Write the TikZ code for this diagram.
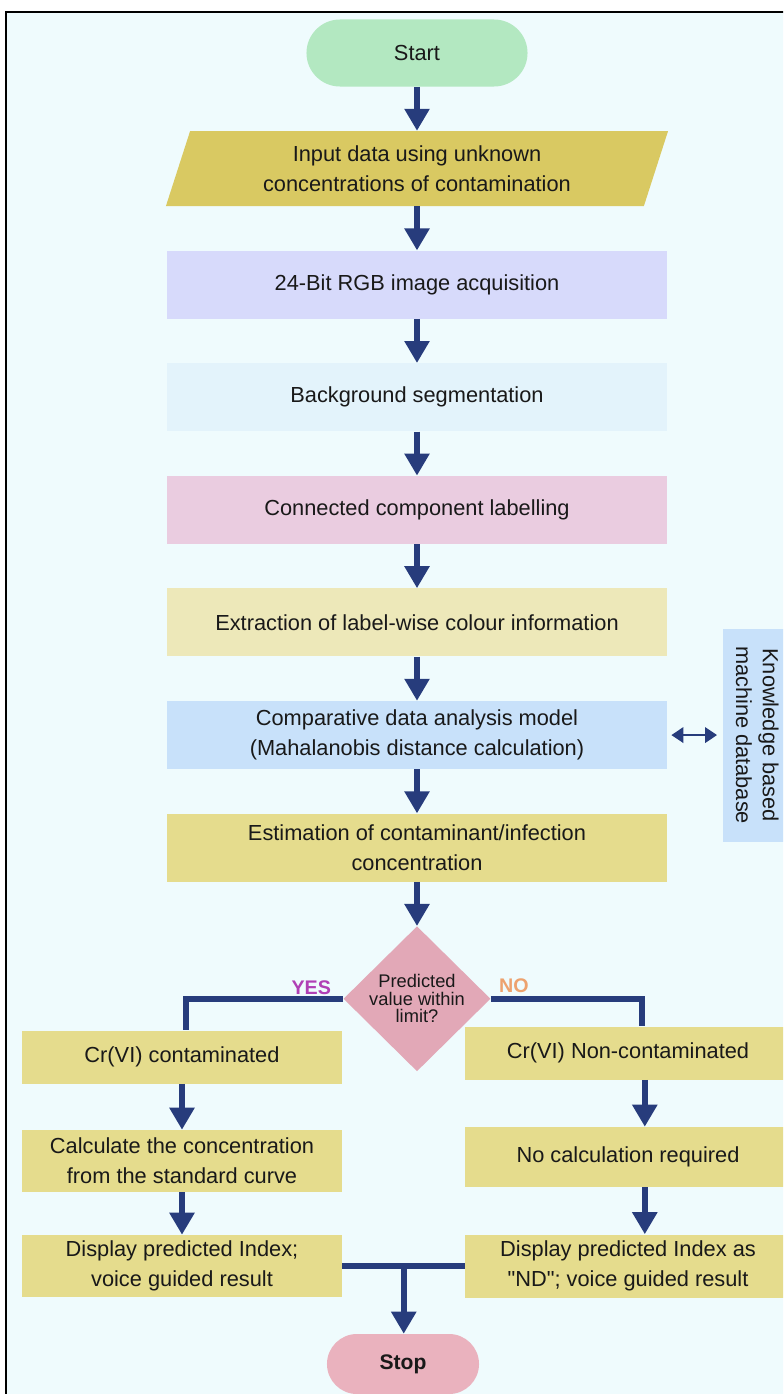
\documentclass[tikz,border=0pt]{standalone}
\usepackage{fontspec}
\setmainfont{Liberation Sans}
\usetikzlibrary{
  arrows.meta,
  positioning,
  calc,
  shapes.geometric
}
\definecolor{PageCyan}{HTML}{EFFBFD}
\definecolor{StartGreen}{HTML}{B3E8C1}
\definecolor{InputOlive}{HTML}{D9C962}
\definecolor{RgbLavender}{HTML}{D7DAFB}
\definecolor{SegBlue}{HTML}{E3F3FB}
\definecolor{LabelPink}{HTML}{EACCE0}
\definecolor{ExtractCream}{HTML}{EDE8B9}
\definecolor{ModelBlue}{HTML}{C8E1FA}
\definecolor{StepYellow}{HTML}{E5DC8D}
\definecolor{LimitPink}{HTML}{E2A8B7}
\definecolor{StopPink}{HTML}{EAB2BE}
\definecolor{FlowNavy}{HTML}{273C7C}
\definecolor{YesPurple}{HTML}{B03FB5}
\definecolor{NoOrange}{HTML}{EDA26E}
\tikzset{
  basebox/.style={
    draw=none,
    align=center,
    text=black!90,
    font=\fontsize{15.5}{21.5}\selectfont,
    inner sep=2pt
  },
  pbox/.style={basebox,rectangle,minimum width=12.5cm,minimum height=1.7cm},
  sbox/.style={basebox,rectangle,fill=StepYellow,minimum width=8cm},
  rbox/.style={sbox,minimum width=8.125cm},
  iobox/.style={basebox,trapezium,trapezium left angle=65,trapezium right angle=115,
    trapezium stretches body,fill=InputOlive,minimum width=12.55cm,minimum height=1.875cm},
  termbox/.style={basebox,rectangle},
  decision/.style={basebox,diamond,fill=LimitPink,inner sep=0pt,
    minimum width=3.675cm,minimum height=3.625cm,font=\fontsize{13}{12.5}\selectfont},
  kbox/.style={basebox,rectangle,fill=ModelBlue,font=\fontsize{15.5}{19}\selectfont},
  branchlbl/.style={inner sep=0pt,font=\fontsize{14}{14}\selectfont\bfseries},
  flow/.style={line width=4pt,draw=FlowNavy},
  flowarrow/.style={flow,-{Triangle[length=0.55cm,width=0.6cm]}},
  dblarrow/.style={line width=2pt,draw=FlowNavy,
    {Triangle[length=0.3cm,width=0.38cm]}-{Triangle[length=0.3cm,width=0.38cm]}}
}

\begin{document}
\begin{tikzpicture}[x=0.025cm,y=-0.025cm,node distance=1.1cm]
  \useasboundingbox (0,0) rectangle (783,1394);
  \clip (0,0) rectangle (783,1394);
  \fill[PageCyan] (6,12) rectangle (800,1410);
  \draw[line width=1.5pt] (6,1410) -- (6,12) -- (800,12);

  % main chain
  \node[termbox,fill=StartGreen,minimum width=5.525cm,minimum height=1.675cm,
    rounded corners=0.8375cm] (start) at (417,53) {Start};
  \node[iobox,below=of start] (input) {Input data using unknown\\concentrations of contamination};
  \node[pbox,fill=RgbLavender,below=of input] (rgb) {24-Bit RGB image acquisition};
  \node[pbox,fill=SegBlue,below=of rgb] (seg) {Background segmentation};
  \node[pbox,fill=LabelPink,below=of seg] (ccl) {Connected component labelling};
  \node[pbox,fill=ExtractCream,below=of ccl] (extract) {Extraction of label-wise colour information};
  \node[pbox,fill=ModelBlue,below=of extract] (model) {Comparative data analysis model\\(Mahalanobis distance calculation)};
  \node[pbox,fill=StepYellow,below=of model] (estim) {Estimation of contaminant/infection\\concentration};
  \node[decision,below=of estim] (limit) {Predicted\\value within\\limit?};

  \node[kbox,rotate=-90,minimum width=5.325cm,minimum height=1.7cm] (kb)
    at ([xshift=2.25cm]model.east) {Knowledge based\\machine database};

  % branches
  \node[sbox,minimum height=1.325cm] (cont) at (182,1057) {Cr(VI) contaminated};
  \node[rbox,minimum height=1.325cm] (noncont) at (628,1053) {Cr(VI) Non-contaminated};
  \node[sbox,minimum height=1.55cm] (calc) at (182,1161) {Calculate the concentration\\from the standard curve};
  \node[rbox,minimum height=1.5cm] (nocalc) at (628,1157) {No calculation required};
  \node[sbox,minimum height=1.55cm] (showval) at (182,1266) {Display predicted Index;\\voice guided result};
  \node[rbox,minimum height=1.575cm] (shownd) at (628,1266) {Display predicted Index as\\\textquotedbl ND\textquotedbl; voice guided result};

  \node[termbox,fill=StopPink,minimum width=3.8cm,minimum height=1.5cm,
    rounded corners=0.75cm,font=\fontsize{15}{15}\selectfont\bfseries] (stop) at (403,1364) {Stop};

  \node[branchlbl,text=YesPurple,above left=0.1cm and 0.3cm of limit.west] (yes) {YES};
  \node[branchlbl,text=NoOrange,above right=0.15cm and 0.2cm of limit.east] (no) {NO};

  % connectors
  \foreach \a/\b in {start/input,input/rgb,rgb/seg,seg/ccl,ccl/extract,extract/model,model/estim,estim/limit}
    \draw[flowarrow] (\a.south) -- (\b.north);
  \draw[dblarrow] ([xshift=0.1cm]model.east) -- ([xshift=-0.15cm]model.east -| kb.south);

  \draw[flow] (limit.west) -| ([xshift=0.1cm]cont.north);
  \draw[flow] (limit.east) -| ([xshift=0.35cm]noncont.north);
  \draw[flowarrow] (cont.south) -- (calc.north);
  \draw[flowarrow] (calc.south) -- (showval.north);
  \draw[flowarrow] ([xshift=0.42cm]noncont.south) -- ([xshift=0.42cm]nocalc.north);
  \draw[flowarrow] ([xshift=0.42cm]nocalc.south) -- ([xshift=0.42cm]shownd.north);

  \coordinate (join) at ($(showval.east)!0.5!(shownd.west)$);
  \draw[flow] (showval.east) -- (shownd.west);
  \draw[flowarrow] (join) -- (join |- stop.north);
\end{tikzpicture}
\end{document}
